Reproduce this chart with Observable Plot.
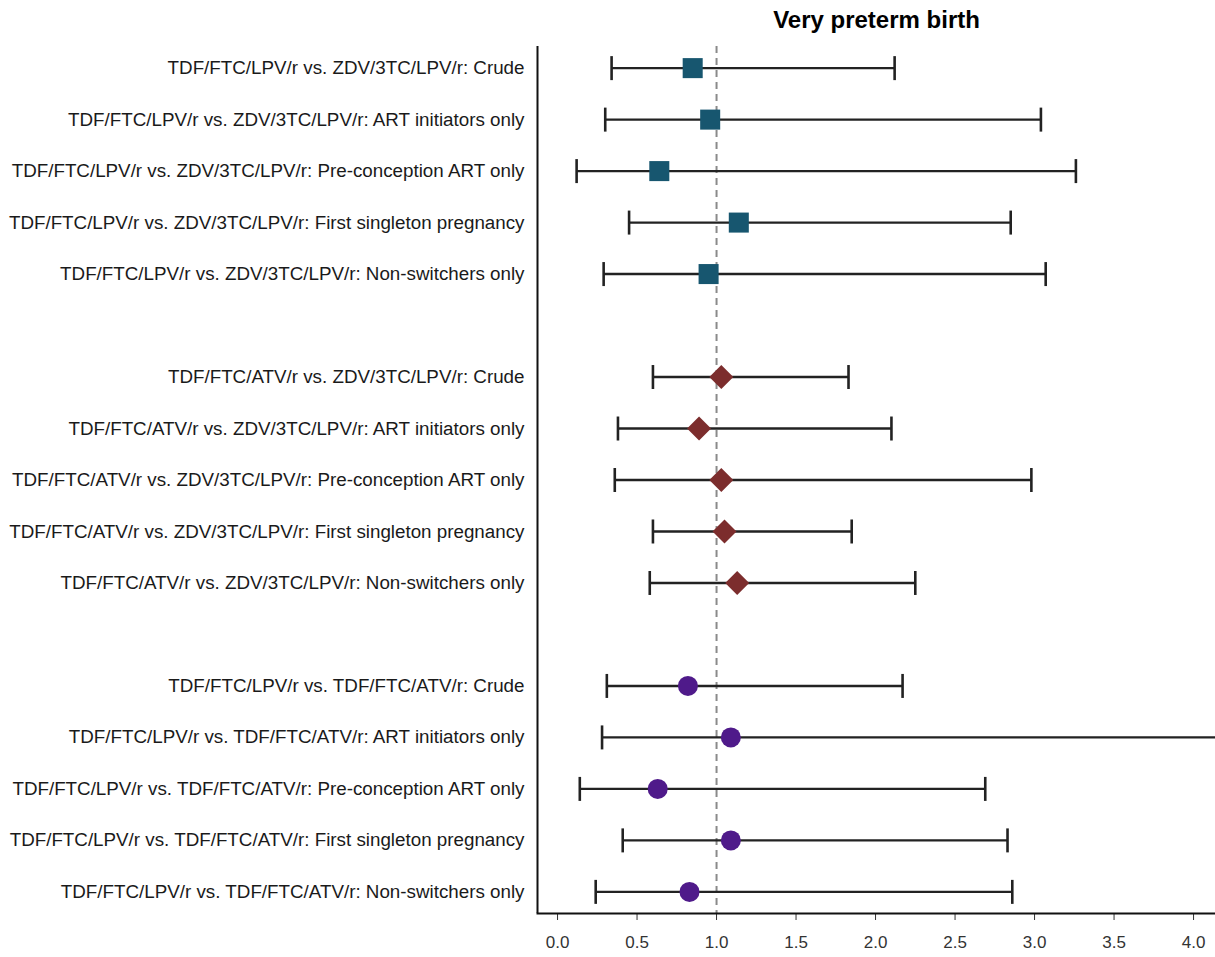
<!DOCTYPE html>
<html>
<head>
<meta charset="utf-8">
<script src="https://cdn.jsdelivr.net/npm/d3@7"></script>
<script src="https://cdn.jsdelivr.net/npm/@observablehq/plot@0.6"></script>
<style>
  html, body { margin: 0; padding: 0; background: #fff; }
  #chart svg { display: block; }
</style>
</head>
<body>
<div id="chart"></div>
<script>
const title = "Very preterm birth";
const comparisons = [
  "TDF/FTC/LPV/r vs. ZDV/3TC/LPV/r",
  "TDF/FTC/ATV/r vs. ZDV/3TC/LPV/r",
  "TDF/FTC/LPV/r vs. TDF/FTC/ATV/r"
];
const analyses = ["Crude", "ART initiators only", "Pre-conception ART only", "First singleton pregnancy", "Non-switchers only"];

const est1  = [0.85, 0.96, 0.64, 1.14, 0.95];
const low1  = [0.34, 0.30, 0.12, 0.45, 0.29];
const high1 = [2.12, 3.04, 3.26, 2.85, 3.07];

const est2  = [1.03, 0.89, 1.03, 1.05, 1.13];
const low2  = [0.60, 0.38, 0.36, 0.60, 0.58];
const high2 = [1.83, 2.10, 2.98, 1.85, 2.25];

const est3  = [0.82, 1.09, 0.63, 1.09, 0.83];
const low3  = [0.31, 0.28, 0.14, 0.41, 0.24];
const high3 = [2.17, 4.60, 2.69, 2.83, 2.86];

const xTicks = [0, 0.5, 1, 1.5, 2, 2.5, 3, 3.5, 4];
const nullValue = 1;

const groupColors = ["#17566f", "#7c2d2d", "#4f1a8a"];
const groupSymbols = ["square", "diamond2", "circle"];
const groupR = [11.3, 10.8, 10];

const ests = [est1, est2, est3], lows = [low1, low2, low3], highs = [high1, high2, high3];
const rows = [];
const domain = [];
comparisons.forEach((c, g) => {
  analyses.forEach((a, i) => {
    const label = `${c}: ${a}`;
    rows.push({label, group: g, est: ests[g][i], low: lows[g][i], high: highs[g][i]});
    domain.push(label);
  });
  if (g < comparisons.length - 1) domain.push(" ".repeat(g + 1));
});

const capSymbol = {
  draw(context, size) {
    const h = 12;
    context.moveTo(0, -h);
    context.lineTo(0, h);
  }
};

const chart = Plot.plot({
  width: 1215,
  height: 957,
  marginLeft: 537,
  marginRight: 0,
  marginTop: 46,
  marginBottom: 44,
  style: {fontFamily: "'Liberation Sans', Arial, sans-serif", background: "#fff", overflow: "visible"},
  x: {domain: [-0.126, 4.138], ticks: xTicks, tickFormat: d3.format(".1f"), label: null},
  y: {type: "point", domain, padding: 0.42, round: false, label: null},
  marks: [
    Plot.ruleX([nullValue], {stroke: "#8a8a8a", strokeWidth: 2, strokeDasharray: "7,5"}),
    Plot.ruleY(rows, {y: "label", x1: "low", x2: "high", stroke: "#222", strokeWidth: 2.4, clip: true}),
    Plot.dot(rows, {x: "low", y: "label", symbol: capSymbol, r: 5, stroke: "#222", strokeWidth: 2.6, fill: "none", clip: true}),
    Plot.dot(rows, {x: "high", y: "label", symbol: capSymbol, r: 5, stroke: "#222", strokeWidth: 2.6, fill: "none", clip: true}),
    ...[0, 1, 2].map(g =>
      Plot.dot(rows.filter(d => d.group === g), {x: "est", y: "label", symbol: groupSymbols[g], r: groupR[g], fill: groupColors[g], stroke: null})
    ),
    Plot.axisX({ticks: xTicks, tickFormat: d3.format(".1f"), tickSize: 7, tickPadding: 15, fontSize: 17, fill: "#333", stroke: "#333", label: null}),
    Plot.axisY({tickSize: 0, tickPadding: 13, fontSize: 18.8, fill: "#1a1a1a", label: null}),
    Plot.ruleX([-0.126], {stroke: "#111", strokeWidth: 2}),
    Plot.frame({anchor: "bottom", stroke: "#111", strokeWidth: 2}),
    Plot.text([title], {frameAnchor: "top", dy: -26, text: d => d, fontSize: 24, fontWeight: "bold", fill: "#000", lineAnchor: "middle"})
  ]
});
document.getElementById("chart").appendChild(chart);
</script>
</body>
</html>
